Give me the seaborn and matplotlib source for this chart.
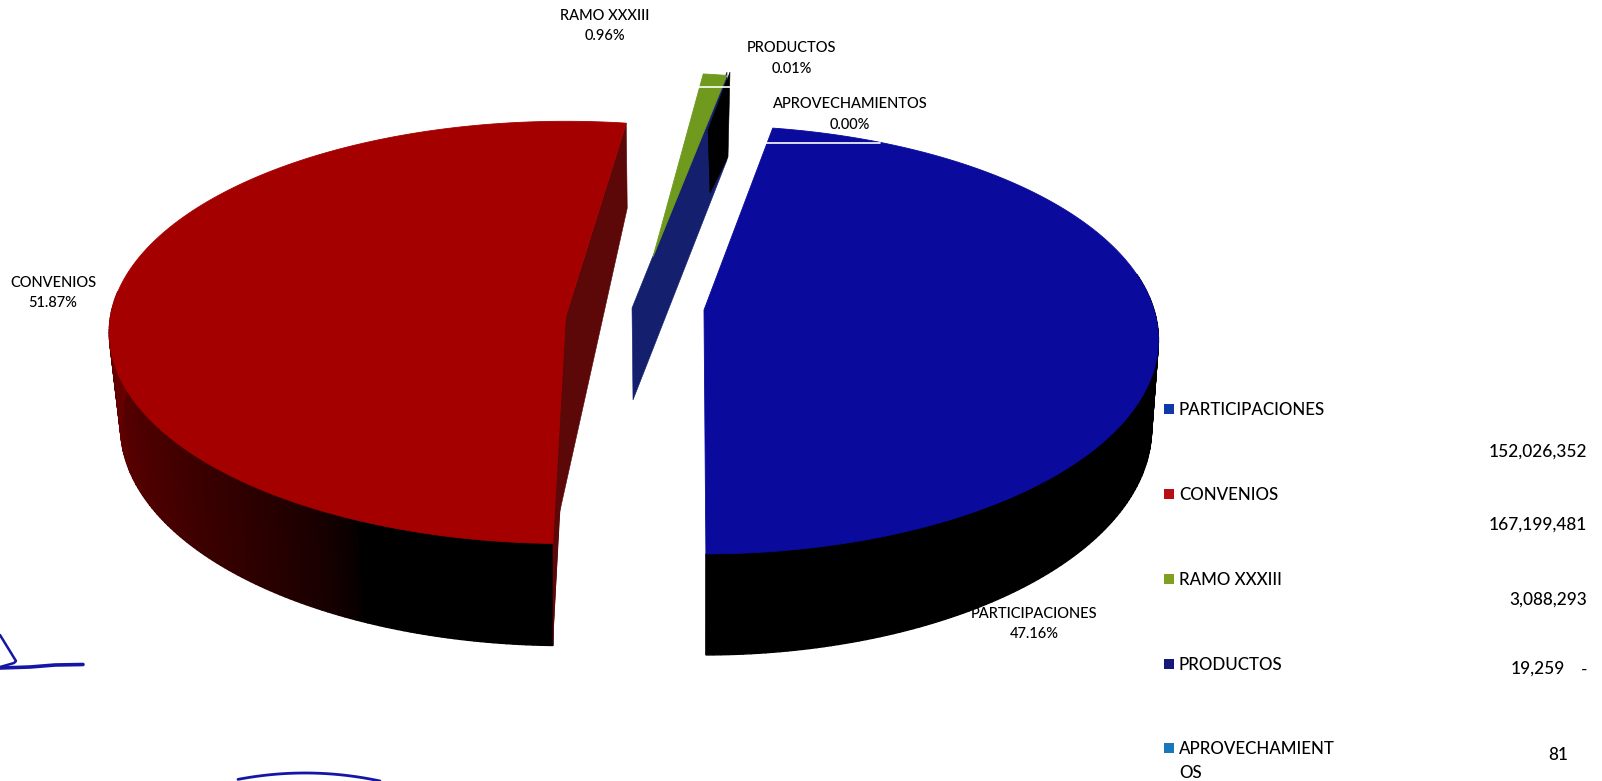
import numpy as np
import matplotlib
matplotlib.use("Agg")
import matplotlib.pyplot as plt
import seaborn as sns

categories = ["PARTICIPACIONES", "CONVENIOS", "RAMO XXXIII", "PRODUCTOS", "APROVECHAMIENTOS"]
values = [152026352, 167199481, 3088293, 19259, 81]
value_labels = ["152,026,352", "167,199,481", "3,088,293", "19,259", "81"]
legend_labels = ["PARTICIPACIONES", "CONVENIOS", "RAMO XXXIII", "PRODUCTOS", "APROVECHAMIENT\nOS"]
top_colors = ["#0a0a9c", "#a50000", "#6f9a1e", "#14206e", "#1878b8"]
legend_colors = ["#1038a8", "#b80f14", "#80a020", "#141a7a", "#1878b8"]

sns.set_theme(style="white")
plt.rcParams["font.family"] = ["Lato", "DejaVu Sans"]

fig, ax = plt.subplots(figsize=(16.02, 7.81), dpi=100)
fig.subplots_adjust(0, 0, 1, 1)
ax.set_xlim(0, 1602)
ax.set_ylim(781, 0)
ax.axis("off")

total = sum(values)
sweeps = [v / total * 360 for v in values]


def project(theta_deg, apex, a, b, k):
    t = np.radians(theta_deg)
    s = 1 + k * np.cos(t)
    return apex[0] + a * np.sin(t) / s, apex[1] - b * np.cos(t) / s


def top_face(start, sweep, apex, a, b, k, color, z):
    th = np.linspace(start, start + sweep, 240)
    x, y = project(th, apex, a, b, k)
    ax.fill(np.r_[apex[0], x], np.r_[apex[1], y], color=color, lw=0.6, zorder=z)


def wall(start, sweep, apex, a, b, k, depth, narrow, shade, z):
    edges = np.linspace(start, start + sweep, 121)
    for t0, t1 in zip(edges[:-1], edges[1:]):
        th = np.linspace(t0, t1, 3)
        x, y = project(th, apex, a, b, k)
        xb, yb = project(th, apex, a * narrow, b, k)
        d = depth / (1 + k * np.cos(np.radians(th)))
        ax.fill(np.r_[x, xb[::-1]], np.r_[y, (yb + d)[::-1]],
                color=shade((t0 + t1) / 2), lw=1.0, zorder=z)


def black_wall(_):
    return "#000000"


def red_wall(theta):
    f = np.clip((theta - 205) / (268 - 205), 0, 1)
    return (0.40 * f ** 0.6, 0.0, 0.0)


def cut_face(apex_top, apex_bottom, rim_top, rim_bottom, color, z):
    ax.fill([apex_top[0], rim_top[0], rim_bottom[0], apex_bottom[0]],
            [apex_top[1], rim_top[1], rim_bottom[1], apex_bottom[1]],
            color=color, lw=0.4, zorder=z)


# PARTICIPACIONES
blue_start = 10.0
blue_geo = dict(apex=(704, 310), a=450, b=210, k=0.139)
blue_end = blue_start + sweeps[0]
wall(start=80, sweep=blue_end - 80, depth=87, narrow=0.985, shade=black_wall, z=2, **blue_geo)
top_face(start=blue_start, sweep=sweeps[0], color=top_colors[0], z=3, **blue_geo)

# CONVENIOS
red_start = blue_end + 1.7
red_geo = dict(apex=(565.5, 317), a=455, b=210, k=0.073)
red_tip = project(red_start + sweeps[1], **red_geo)
red_near = project(red_start, **red_geo)
wall(start=red_start, sweep=277 - red_start, depth=94.6, narrow=0.975, shade=red_wall, z=2, **red_geo)
cut_face((565.5, 317), red_near, red_tip, (red_tip[0] + 1, red_tip[1] + 85), "#5c0808", 2)
cut_face((565.5, 317), red_near, (565, 405), (red_near[0], red_near[1] + 102), "#5c0808", 2)
ax.fill([red_near[0], 562, red_near[0]], [red_near[1], 480, red_near[1] + 102], color="#5c0808", lw=0, zorder=2.1)
top_face(start=red_start, sweep=sweeps[1], color=top_colors[1], z=3, **red_geo)
# near part of the cut below the top face stays black
ax.fill([510, red_near[0], red_near[0], 510], [red_near[1], red_near[1], red_near[1] + 102, red_near[1] + 99],
        color="#000000", lw=0, zorder=2.05)

# PRODUCTOS cut face, RAMO XXXIII wedge over it
cut_face((632, 308), (633, 400), (727, 72), (727, 160), top_colors[3], 2)
cut_face((708, 130), (710, 193), (730, 72), (728, 157), "#000000", 2.5)
top_face(start=7.3, sweep=sweeps[2], apex=(653, 257), a=450, b=210, k=0.139,
         color=top_colors[2], z=3)

# scanner streaks
ax.plot([766, 880], [143, 143], color="white", lw=1.2, zorder=4)
ax.plot([697, 731], [87, 87], color="white", lw=1.2, zorder=4)

# pen strokes on the scanned page
ink = "#1616a6"
ax.plot([0, 16, 14, 0], [635, 661, 663, 667], color=ink, lw=1.8, zorder=1, solid_joinstyle="round")
ax.plot([0, 30, 55, 83], [668, 667, 665, 664.5], color=ink, lw=2.6, zorder=1)
arc_x = np.linspace(238, 380, 60)
ax.plot(arc_x, 773 + ((arc_x - 305) / 75) ** 2 * 8, color=ink, lw=2.0, zorder=1)

# data labels
label_pos = [(1034, 624), (53, 293), (605, 26), (792, 58.5), (850, 114.5)]
for name, v, (lx, ly) in zip(categories, values, label_pos):
    ax.text(lx, ly, f"{name}\n{v / total:.2%}", ha="center", va="center",
            fontsize=10.5, color="black", linespacing=1.6, zorder=5, fontweight="medium")

# legend
legend_y = [409, 494, 579, 664, 748]
legend_text_y = [410, 495, 580, 665, 761]
for y, ty, lab, c in zip(legend_y, legend_text_y, legend_labels, legend_colors):
    ax.scatter([1169], [y], marker="s", s=58, color=c, lw=0, zorder=5)
    ax.text(1179, ty, lab, ha="left", va="center", fontsize=12.2, color="black",
            linespacing=1.65, zorder=5, fontweight="medium")

# values beside the legend
value_right = [1587, 1587, 1587, 1565, 1568]
value_y = [452, 525, 600, 669, 755]
for xr, y, lab in zip(value_right, value_y, value_labels):
    ax.text(xr, y, lab, ha="right", va="center", fontsize=12.4, color="black", zorder=5,
            fontweight="medium")
ax.text(1587, 670, "-", ha="right", va="center", fontsize=12.4, color="black", zorder=5)

fig.savefig("out.png", dpi=100, facecolor="white")
